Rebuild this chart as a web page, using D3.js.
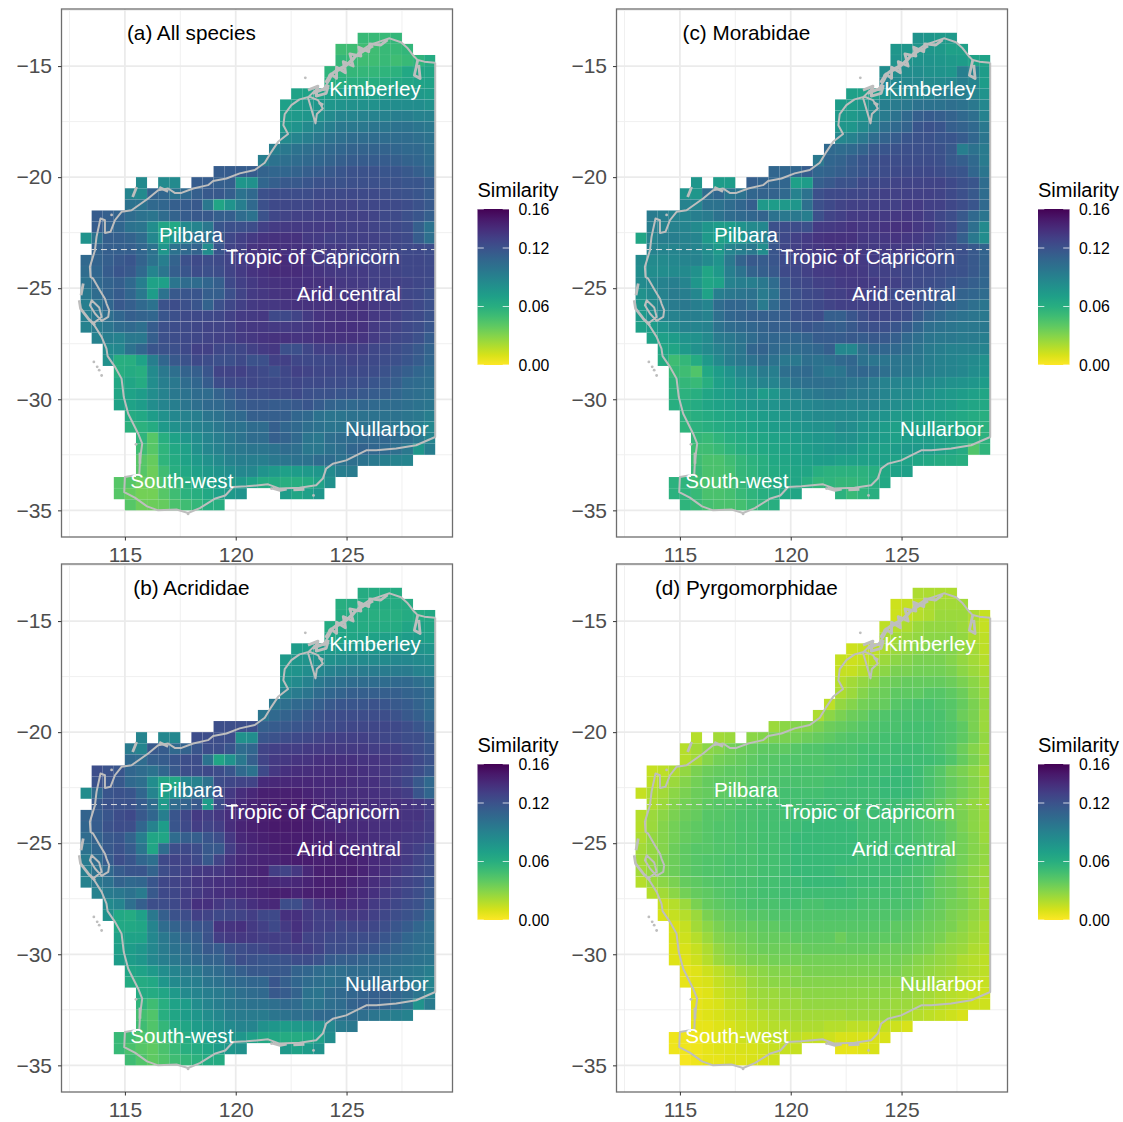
<!DOCTYPE html>
<html>
<head>
<meta charset="utf-8">
<title>Similarity maps</title>
<script src="https://d3js.org/d3.v7.min.js"></script>
<style>
  body { margin: 0; background: #fff; }
  text { font-family: "Liberation Sans", Arial, sans-serif; }
</style>
</head>
<body>
<div id="vis_container"></div>
<script>
// grid: half degree cells, rows go south from -13.5, columns go east from 113
var gridLon = 113, gridLat = -13.5, cellDeg = 0.5;

// first column of each row (row 0 is the northern one)
var firstCol = [25,23,23,22,22,19,18,18,18,18,17,16,12,5,4,4,1,1,0,1,0,0,0,0,0,0,0,1,2,2,3,3,3,3,4,4,5,5,5,5,3,3,4];

// similarity x 1000, read by eye from the maps
var allSpecies = [
[52,52,52,54],
[50,50,50,50,52,52,55],
[54,52,50,50,52,50,52,56,62],
[56,56,54,54,54,56,58,64,66,66],
[60,60,60,60,60,62,64,66,68,68],
[68,68,68,70,70,70,70,70,72,72,74,74,72],
[70,72,74,76,76,78,80,80,80,82,82,82,82,80],
[72,74,76,80,84,88,88,90,90,90,92,92,90,90],
[74,78,84,88,92,96,96,96,98,98,100,100,98,96],
[84,88,92,96,100,102,104,104,104,104,104,104,102,100],
[92,96,100,102,104,106,108,110,110,110,110,108,106,106,102],
[92,100,102,104,106,108,110,112,114,114,114,114,112,110,108,104],
[114,114,114,114,110,108,108,110,112,114,116,118,120,120,120,118,118,116,112,108],
[84,null,84,84,null,114,114,112,112,76,80,108,112,116,116,118,120,120,120,121,121,121,120,120,118,118,114],
[88,84,110,108,100,106,112,116,116,112,100,106,121,123,123,123,123,124,124,124,125,124,124,123,121,120,118,114],
[100,100,106,108,112,114,116,96,66,78,92,106,121,125,126,126,126,128,128,128,128,126,126,125,124,123,120,116],
[114,112,110,104,100,98,104,110,114,116,116,112,112,104,100,120,126,128,129,129,130,129,129,129,129,128,125,124,121,118,112],
[114,110,108,100,98,82,66,64,84,88,96,118,121,121,123,130,132,133,133,132,132,132,130,129,129,128,126,125,123,112,100],
[78,100,112,112,110,104,86,70,76,90,100,100,116,126,130,133,136,137,137,137,133,132,130,130,130,130,129,128,126,124,114,102],
[110,112,112,112,108,100,76,100,106,110,82,118,128,130,136,137,138,138,137,136,133,132,132,130,130,129,128,126,125,125,123],
[106,110,112,116,118,110,100,92,110,121,124,123,124,128,132,136,138,140,140,140,137,134,133,132,130,130,129,128,128,126,126,124],
[104,108,114,118,116,106,88,98,112,118,123,121,123,128,132,136,138,140,140,140,138,136,134,133,132,132,130,129,128,126,126,125],
[100,106,110,112,106,92,68,70,98,104,104,108,112,125,130,133,136,137,138,138,138,137,136,134,133,132,130,130,129,128,126,124],
[96,104,110,114,108,96,72,100,116,118,118,112,112,121,128,132,134,136,137,138,138,138,136,134,134,133,132,130,129,126,125,121],
[92,100,108,116,112,106,100,120,123,121,118,110,121,126,130,133,134,134,136,137,137,137,137,137,138,137,134,133,130,128,125,121],
[92,98,102,108,112,110,108,118,121,124,125,125,126,129,132,133,134,125,125,128,133,136,137,137,137,137,134,132,129,126,124,120],
[90,94,98,104,106,102,114,121,123,124,126,128,128,129,133,134,134,133,132,133,134,136,137,138,138,137,133,130,128,125,123,118],
[90,92,90,96,96,112,121,123,125,126,128,129,130,133,134,136,137,137,136,136,137,137,137,137,136,132,129,126,124,121,114],
[84,86,100,108,118,120,121,125,129,129,126,125,126,129,132,134,121,121,126,130,130,130,130,129,126,125,123,120,116,110],
[80,60,60,68,92,108,116,120,124,123,121,121,124,120,121,129,130,126,125,125,125,126,128,126,125,123,121,118,114,108],
[60,62,60,84,96,102,110,112,118,128,128,129,126,124,121,126,129,128,126,126,125,125,124,123,120,116,112,108,104],
[64,66,62,82,92,96,104,108,114,123,124,125,126,124,124,125,126,124,124,123,123,121,121,118,116,112,106,104,102],
[66,68,72,82,90,96,100,104,104,110,114,118,121,121,123,123,124,121,120,120,118,118,116,114,112,108,104,102,100],
[68,68,72,82,88,92,98,102,106,106,110,114,116,116,114,114,116,118,114,110,108,106,108,106,104,104,102,100,98],
[62,64,72,80,86,90,92,98,100,104,106,112,112,112,112,108,106,100,98,98,100,100,100,100,100,98,96,92],
[58,58,62,74,80,86,90,92,96,100,100,104,104,112,108,106,102,100,98,98,100,100,100,100,98,96,92,86],
[56,42,60,68,76,82,88,92,96,100,104,104,112,110,106,98,96,102,104,104,106,106,108,104,102,96,88],
[50,42,56,64,70,80,86,90,94,96,98,98,100,104,102,96,96,100,102,108,110,108,106,102,96,76,92],
[42,38,56,62,68,74,80,84,90,92,92,92,96,98,100,100,104,104,100,102,100,96,92,90,88],
[42,36,50,60,64,70,74,78,82,86,86,78,74,70,72,74,76,84,92,94],
[42,42,36,36,46,54,60,64,68,72,74,74,68,62,62,60,60,62,68,80],
[42,38,34,34,42,50,58,60,64,70,74,78,null,null,null,72,66,70,76],
[42,36,36,38,46,50,54,60,60]
];

var acrididae = [
[62,62,62,62],
[60,62,62,62,62,62,62],
[62,62,62,60,60,60,62,62,64],
[62,64,64,62,62,62,62,66,68,66],
[66,66,66,68,68,70,70,72,72,70],
[72,72,72,74,74,74,76,76,76,78,78,78,76],
[74,76,78,80,80,82,84,84,84,84,86,86,84,82],
[76,78,82,86,90,92,94,94,94,94,94,94,90,88],
[80,84,90,96,100,102,104,104,104,104,106,106,102,98],
[90,94,98,104,108,110,112,112,112,112,112,110,108,104],
[96,102,106,108,112,116,118,118,118,120,118,116,114,110,104],
[98,106,110,112,116,120,122,123,123,123,123,122,120,116,112,106],
[122,122,122,122,112,114,116,118,120,122,123,125,126,126,126,126,125,122,118,112],
[88,null,86,86,null,123,123,122,122,80,82,118,120,123,125,126,128,130,130,130,130,128,126,125,123,122,116],
[94,88,116,114,106,110,118,122,122,118,104,108,128,130,131,131,133,133,133,133,133,133,131,131,130,126,123,118],
[106,104,112,114,118,122,123,100,66,78,96,112,128,133,134,136,136,138,138,138,138,136,136,134,133,130,125,120],
[122,120,118,108,104,100,108,116,122,123,125,123,118,106,100,125,134,138,139,139,139,139,139,139,138,136,134,131,128,123,116],
[120,118,116,106,102,82,66,64,86,90,100,123,126,128,128,141,142,142,142,142,141,141,141,139,138,138,134,131,126,116,106],
[82,106,118,120,118,108,88,70,78,92,104,104,123,133,139,142,146,146,146,146,144,142,141,139,139,139,138,136,134,131,118,108],
[116,120,120,120,114,104,74,104,110,116,72,123,136,141,144,146,147,147,147,147,144,142,141,141,139,139,138,138,136,134,130],
[110,114,118,123,125,116,108,92,118,126,133,131,134,139,142,146,147,149,149,149,147,144,142,141,141,139,139,138,138,136,136,131],
[108,114,120,123,122,108,90,72,118,125,131,128,131,139,144,146,147,149,149,149,147,146,144,142,141,141,139,138,138,136,134,131],
[104,110,116,118,110,92,66,66,104,112,112,118,122,134,142,144,146,147,147,147,147,146,146,144,142,141,139,138,136,134,133,130],
[100,108,116,120,114,98,66,104,122,125,123,116,116,131,139,142,144,146,147,147,147,147,146,144,142,141,139,138,136,133,130,125],
[94,104,114,122,118,108,102,125,128,128,125,116,128,136,141,142,144,144,146,147,147,146,146,146,146,144,141,139,136,133,128,123],
[92,100,106,114,118,118,110,123,126,130,133,134,134,138,141,142,144,131,128,134,142,146,146,146,146,144,141,138,134,130,126,122],
[90,96,100,110,106,108,118,126,128,131,134,136,138,138,141,142,144,142,141,142,144,146,146,146,144,142,139,136,131,128,125,118],
[90,94,96,100,94,116,125,126,131,133,136,138,139,141,142,144,146,146,144,146,146,146,146,142,141,138,133,130,126,122,116],
[84,88,102,112,122,123,125,131,138,138,134,131,134,138,141,142,123,122,131,136,138,141,139,138,133,130,126,123,120,112],
[80,64,62,70,96,112,120,123,130,128,125,126,128,131,126,125,138,138,133,130,130,133,134,133,130,126,123,120,116,108],
[64,64,66,88,104,110,116,118,120,136,136,138,133,130,125,133,138,133,130,130,126,128,128,126,122,118,114,108,102],
[68,68,68,86,96,102,110,112,120,131,133,134,133,131,131,130,136,128,128,125,125,123,123,122,118,114,108,104,102],
[70,72,76,86,94,100,104,110,116,114,120,122,125,126,130,130,131,131,128,123,123,122,120,118,114,110,106,102,100],
[72,72,76,86,92,96,102,106,110,110,116,122,120,118,118,120,123,123,120,114,112,112,110,108,106,104,102,100,98],
[66,68,74,82,88,94,96,102,104,108,112,116,116,116,116,110,108,104,102,102,104,104,104,102,100,98,96,92],
[62,62,64,76,84,90,92,98,100,104,106,108,108,118,112,108,104,102,100,102,104,104,106,104,100,98,94,88],
[62,62,66,74,84,88,92,94,98,102,104,106,116,114,110,100,98,104,106,108,110,112,112,108,104,98,90],
[56,50,60,68,72,82,88,92,96,98,100,100,102,106,104,98,98,102,104,110,112,112,110,106,100,78,94],
[48,44,60,66,72,76,82,86,92,94,94,94,98,100,102,102,106,106,102,104,102,98,94,92,90],
[50,44,54,62,66,72,76,80,84,88,88,80,76,72,74,76,78,86,94,96],
[52,50,44,42,50,56,62,66,70,74,76,76,70,64,64,62,62,64,70,82],
[52,46,42,40,46,52,60,62,66,72,76,80,null,null,null,74,68,72,78],
[50,44,40,44,50,54,58,62,62]
];

var morabidae = [
[78,76,74,74],
[76,76,76,76,74,70,70],
[78,78,78,78,76,74,72,68,68],
[82,82,82,82,80,78,76,92,90,72],
[88,86,86,86,84,84,86,92,88,72],
[70,70,72,80,84,84,86,88,92,92,92,88,78],
[72,72,76,84,92,94,96,100,100,100,102,100,96,86],
[74,74,78,86,94,100,106,112,114,112,110,106,102,90],
[76,76,84,92,102,106,110,118,120,118,112,110,106,96],
[86,90,96,104,110,114,118,120,120,118,118,114,108,98],
[106,104,106,110,116,118,120,121,121,121,120,116,92,100,94],
[96,108,110,114,118,120,123,123,123,123,123,121,116,112,106,94],
[108,108,108,114,108,110,112,116,118,121,123,124,124,125,125,123,120,118,108,98],
[76,null,72,72,null,112,110,108,108,70,72,112,116,120,120,124,125,126,128,128,128,128,128,125,121,118,104],
[78,76,104,108,98,100,108,110,110,106,90,100,121,124,125,126,126,128,129,129,129,129,129,128,125,121,116,104],
[90,88,100,100,104,108,112,74,72,74,76,102,121,125,128,129,129,130,130,130,132,132,130,129,126,123,118,106],
[94,92,90,88,92,94,100,104,106,108,110,100,96,96,92,121,128,130,132,132,133,133,134,134,133,130,126,123,116,106,98],
[92,90,90,88,84,76,72,72,78,84,86,121,123,123,121,132,133,134,136,134,134,136,137,137,134,132,128,124,116,102,84],
[66,88,92,92,90,88,74,70,72,76,84,90,116,125,129,132,136,137,137,137,134,133,134,136,134,133,130,126,123,112,96,82],
[90,88,88,90,88,82,74,88,92,96,82,118,126,129,132,134,136,136,134,133,132,132,132,132,130,129,125,123,121,116,110],
[84,84,84,86,88,90,84,78,96,110,116,114,118,124,128,130,133,134,134,134,133,132,130,128,128,126,125,123,121,120,116,110],
[82,82,82,84,84,80,66,74,92,100,110,112,116,124,126,129,132,133,134,134,133,130,129,128,126,125,124,123,121,120,116,110],
[84,86,90,92,88,76,66,68,90,92,92,96,104,118,124,126,129,130,132,133,133,132,130,129,126,124,123,121,118,116,112,108],
[80,84,90,94,92,86,68,92,96,98,100,94,100,116,121,124,126,129,130,132,130,129,126,125,124,121,120,118,114,110,108,104],
[76,84,90,94,96,92,88,104,108,108,104,94,106,114,121,123,125,128,130,130,129,129,128,126,125,121,118,114,110,106,102,98],
[74,82,88,90,92,92,90,102,108,110,112,112,112,114,120,121,123,112,112,118,123,126,126,125,123,116,110,106,102,100,98,96],
[70,72,78,84,90,88,90,100,104,106,108,110,112,112,116,118,116,114,112,116,120,121,121,118,114,108,102,100,98,96,96,96],
[68,70,72,78,80,84,94,96,100,104,108,108,108,108,110,114,114,114,116,114,116,116,112,106,102,98,96,96,94,94,92],
[66,66,74,80,84,90,94,98,108,110,106,104,104,106,108,112,86,86,102,108,108,106,102,98,94,92,90,90,90,88],
[62,50,54,62,74,84,92,96,100,104,100,96,96,102,100,102,106,108,100,98,98,98,96,96,92,90,88,86,84,80],
[52,50,44,64,72,78,86,88,94,92,102,104,106,100,96,98,106,108,106,102,98,96,94,92,90,88,86,82,78],
[56,54,52,60,70,74,80,84,88,88,94,100,102,102,102,100,98,98,94,90,88,86,86,84,82,80,78,76,72],
[58,58,60,66,70,72,76,78,72,76,84,90,94,96,98,98,94,94,92,88,84,84,82,80,76,74,72,70,66],
[60,60,62,66,68,70,74,76,78,78,82,84,86,88,90,88,88,90,90,84,82,80,76,76,74,72,68,66,64],
[58,60,62,64,66,68,70,72,74,76,80,82,84,84,84,84,82,80,78,74,72,72,70,68,66,64,62,60],
[56,58,60,62,64,66,68,70,72,74,76,78,80,80,84,82,78,76,72,70,70,70,68,66,64,62,60,58],
[54,52,56,60,62,64,66,68,70,72,74,76,76,80,80,76,74,72,70,72,72,72,70,68,64,60,58],
[50,50,52,56,60,62,64,66,68,70,72,74,76,76,76,72,70,70,72,74,74,72,70,66,62,44,56],
[50,46,46,50,54,58,60,64,66,68,70,72,72,70,70,70,70,70,68,68,66,64,62,62,60],
[52,46,46,48,54,56,60,62,64,66,66,60,58,58,58,58,60,64,68,70],
[58,56,50,46,46,50,54,58,60,62,64,66,60,54,56,54,54,56,60,64],
[58,56,52,46,46,48,52,56,60,62,64,66,null,null,null,58,52,56,60],
[56,52,48,46,46,48,52,56,60]
];

var pyrgomorphidae = [
[20,20,20,20],
[12,14,16,20,22,22,22],
[12,14,18,20,24,24,24,20,14],
[16,18,20,24,26,26,26,24,18,14],
[20,22,24,26,28,28,28,26,20,16],
[12,14,16,20,24,26,28,30,30,30,26,22,16],
[14,12,14,18,24,28,30,32,32,32,30,26,22,18],
[14,14,18,24,28,32,32,34,34,34,32,28,24,20],
[18,22,26,30,34,36,38,38,38,38,36,32,28,22],
[20,24,30,34,36,40,40,40,42,42,40,36,30,24],
[16,26,30,34,36,38,42,44,46,46,44,42,38,32,26],
[20,28,32,36,38,42,44,46,46,46,46,46,42,36,32,24],
[24,28,30,30,32,36,38,40,42,44,46,46,48,48,48,46,44,40,32,24],
[18,null,22,24,null,28,30,32,32,34,36,38,40,42,44,44,46,48,48,48,48,48,46,44,40,34,26],
[18,22,28,30,34,36,38,40,40,40,42,44,44,46,46,46,48,48,48,50,50,50,48,46,42,36,30,24],
[18,22,30,34,36,38,40,42,42,44,44,44,44,46,46,46,48,50,50,50,50,50,50,48,44,38,32,26],
[14,16,20,26,32,36,38,40,40,42,42,44,44,46,46,46,46,48,48,50,50,50,52,52,50,46,42,36,32,28,22],
[16,20,24,30,34,38,40,40,40,42,44,44,46,46,46,46,48,48,50,50,50,52,52,52,50,46,42,38,34,30,24],
[14,20,22,28,32,36,38,40,40,40,44,46,46,48,48,48,48,50,50,50,50,50,52,52,52,50,46,42,38,34,30,24],
[20,24,30,34,36,40,42,42,44,46,46,48,48,48,50,50,50,50,50,50,50,50,50,48,46,42,38,34,30,26,22],
[18,24,28,32,36,38,42,42,44,46,46,48,48,48,50,50,52,52,52,50,50,50,50,48,48,46,42,38,36,32,28,24],
[18,24,30,34,38,40,42,44,44,46,46,48,48,50,50,52,52,52,52,52,50,50,50,48,48,46,44,42,38,32,28,24],
[20,26,30,34,38,40,42,44,44,46,46,48,48,50,52,52,52,52,52,52,50,50,50,48,48,46,44,42,38,34,30,24],
[22,26,30,36,40,42,42,44,44,46,46,48,48,50,52,52,52,52,52,52,50,50,50,50,50,48,44,42,38,34,30,26],
[22,26,32,36,40,42,44,44,46,46,46,48,48,50,52,52,52,52,52,52,50,50,50,50,50,48,46,42,38,34,30,26],
[22,26,32,36,40,42,44,44,46,46,46,48,48,50,52,52,52,52,50,50,50,50,50,50,48,46,44,40,36,32,28,24],
[18,24,28,32,38,40,42,44,44,46,46,48,48,50,50,52,52,52,52,50,50,50,48,48,46,46,42,38,36,32,28,24],
[18,22,28,34,38,40,42,44,46,46,48,48,50,50,50,50,50,50,50,48,48,48,48,46,46,42,38,36,32,28,22],
[14,18,24,32,38,40,42,44,46,46,46,48,48,46,46,48,48,48,46,46,46,46,46,44,40,38,34,32,28,22],
[10,14,18,24,32,36,38,40,42,42,44,44,44,44,44,44,44,44,44,44,44,44,42,40,38,36,32,30,26,22],
[10,14,22,28,32,36,38,38,40,40,42,42,42,42,42,42,42,42,42,42,40,40,38,36,34,32,28,24,20],
[10,12,18,24,30,32,34,36,38,38,38,40,40,40,40,36,40,40,40,40,40,38,36,34,32,28,26,22,20],
[8,10,14,20,26,30,32,34,36,36,36,36,38,38,38,38,38,38,38,36,36,36,34,32,28,26,24,20,18],
[8,8,12,18,24,28,30,32,32,34,34,34,34,34,34,34,34,34,34,34,34,32,30,28,26,24,20,18,16],
[6,8,12,16,20,24,26,28,30,30,30,32,32,32,32,32,32,32,32,32,30,28,26,24,22,20,18,16],
[6,8,10,14,18,20,24,26,28,28,30,30,30,30,30,30,30,30,30,28,28,26,24,22,20,18,16,14],
[6,8,12,16,18,22,24,24,26,26,28,28,28,28,28,28,28,28,26,26,24,22,20,18,16,14,12],
[6,8,10,14,16,20,22,22,24,24,26,26,26,26,26,26,26,26,24,24,22,20,18,16,14,12,12],
[6,8,10,12,14,16,18,20,22,22,22,22,22,22,24,24,24,24,22,20,18,16,14,12,10],
[6,6,8,10,12,14,16,18,18,20,20,20,18,18,16,16,16,14,12,10],
[4,4,4,6,8,10,12,14,14,16,16,16,14,14,12,10,10,10,10,10],
[4,4,4,6,8,8,10,10,12,14,14,14,null,null,null,6,6,8,10],
[2,4,6,6,8,8,10,10,12]
];

// coast of Western Australia, closed down the 129E border
var coast = [
[129,-14.85],[128.51,-14.8],[128.21,-14.73],[128.06,-14.58],[127.76,-14.2],[127.46,-13.93],[126.94,-13.75],
[126.49,-13.9],[126.04,-14.05],[125.59,-14.35],[125.29,-14.73],[124.83,-15.11],[124.38,-15.33],[124.23,-15.63],
[123.93,-16.08],[123.63,-16.05],[123.26,-16.41],[123.6,-17.58],[123.66,-17.16],[123.93,-16.91],[123.71,-16.53],
[123.33,-16.38],[122.88,-16.5],[122.51,-16.76],[122.21,-17.16],[122.15,-17.66],[122.36,-18.06],[121.91,-18.41],
[121.61,-18.86],[121.31,-19.35],[120.86,-19.68],[120.18,-19.83],[119.58,-20.06],[118.98,-20.17],[118.75,-20.36],
[118.08,-20.51],[117.55,-20.71],[117.25,-20.71],[116.95,-20.51],[116.5,-20.59],[116.05,-20.96],[115.3,-21.49],
[114.85,-21.56],[114.55,-21.94],[114.35,-22.46],[114.1,-22.51],[114.1,-21.94],[113.9,-21.86],[113.72,-22.69],
[113.65,-23.29],[113.42,-24.04],[113.45,-24.49],[113.57,-24.57],[113.87,-25.09],[114.1,-25.47],[114.17,-25.69],
[114.29,-25.99],[114.25,-26.29],[113.95,-26.47],[113.65,-26.14],[113.42,-25.77],[113.5,-25.54],[113.84,-25.87],
[113.95,-26.29],[113.57,-26.59],[113.95,-27.19],[114.17,-27.72],[114.22,-28.06],[114.55,-28.54],[114.85,-29.07],
[114.95,-29.9],[115.15,-30.65],[115.6,-31.55],[115.78,-32],[115.68,-32.75],[115.65,-33.38],[115,-33.5],
[114.97,-34.18],[115.45,-34.43],[116,-34.82],[116.5,-35],[117.33,-34.96],[117.85,-35.12],[118.38,-34.9],
[119.05,-34.48],[119.53,-34.33],[119.88,-33.95],[120.48,-33.92],[121.46,-33.83],[121.98,-34.02],[122.88,-33.98],
[123.63,-33.87],[123.93,-33.57],[124.08,-33.12],[124.38,-32.9],[124.98,-32.75],[125.89,-32.3],[126.34,-32.3],
[127.24,-32.22],[128.14,-32.07],[129,-31.7],[129,-14.85]
];

// rugged bits and islands, heavier than the coast line
var islands = [
[[124.05,-15.75],[124.3,-15.35],[124.55,-15.55],[124.55,-15.05],[124.95,-15.3],[124.85,-14.8],[125.3,-15],[125.15,-14.45],[125.65,-14.55],[125.55,-14.15],[126,-14.35],[126.05,-14],[126.55,-14.05],[126.85,-13.82]],
[[124.2,-15.45],[124.6,-15.15],[125,-14.95],[125.35,-14.6],[125.8,-14.3],[126.2,-14.1]],
[[123.26,-16.08],[123.71,-15.9],[123.63,-16.35],[124.08,-16.23],[124.16,-15.96],[123.48,-16.23]],
[[123.85,-16.05],[124.05,-16.05],[124.2,-15.85]],
[[123.75,-16.65],[123.95,-16.75]],
[[128.21,-14.73],[128.06,-15.41],[128.32,-15.56],[128.26,-14.95]],
[[113.12,-24.79],[113.02,-25.32]],
[[112.94,-25.54],[113,-25.92],[113.35,-26.37],[113.65,-26.67]],
[[115.53,-20.44],[115.35,-20.89]],
[[116.55,-20.45],[116.95,-20.65]],
[[115.68,-32.4],[115.68,-32.9]],
[[121.65,-34],[122,-34.1],[122.3,-34.05]],
[[122.6,-34.08],[123.1,-34.05]]
];

var islets = [[113.6,-28.32],[113.75,-28.54],[113.84,-28.69],[113.95,-28.93],[123.14,-15.53],[115.5,-32.03],[123.51,-34.33],[121.61,-34.02],[117.85,-35.16],[114.4,-21.7]];

var tropicLat = -23.26, tropicLon = [113.47, 129];

var placeNames = ["Kimberley","Pilbara","Tropic of Capricorn","Arid central","Nullarbor","South-west"];
var placeLon = [126.28,117.98,123.48,125.1,126.82,117.57];
var placeLat = [-16.03,-22.6,-23.6,-25.27,-31.31,-33.65];

var xTicks = [115,120,125];
var yTicks = [-15,-20,-25,-30,-35];
var xMajor = [115,120,125], xMinor = [112.5,117.5,122.5,127.5];
var yMajor = [-15,-20,-25,-30,-35], yMinor = [-12.5,-17.5,-22.5,-27.5,-32.5];
var seamLat = -26.5;
var legendTicks = [0,0.06,0.12,0.16];

var panelWidth = 391, panelHeight = 528;

var color = d3.scaleSequential(d3.interpolateViridis).domain([0.16,0]);

var svg = d3.select("#vis_container").append("svg")
    .attr("width", 1123)
    .attr("height", 1122);

var defs = svg.append("defs");
var grad = defs.append("linearGradient")
    .attr("id", "simgrad")
    .attr("x1", 0).attr("x2", 0).attr("y1", 1).attr("y2", 0);
d3.range(0, 17).forEach(function(i) {
  grad.append("stop")
      .attr("offset", (i / 16))
      .attr("stop-color", color(i / 100));
});

function drawPanel(title, rows, left, top, legendLeft) {
  var g = svg.append("g").attr("transform", "translate(" + left + "," + top + ")");
  var x = d3.scaleLinear().domain([112.14,129.78]).range([0,panelWidth]);
  var y = d3.scaleLinear().domain([-12.43,-36.2]).range([0,panelHeight]);

  // grid
  g.selectAll("line.vminor").data(xMinor).enter().append("line")
      .attr("x1", x).attr("x2", x).attr("y1", 0).attr("y2", panelHeight)
      .style("stroke", "#f0f0f0").style("stroke-width", 1);
  g.selectAll("line.hminor").data(yMinor).enter().append("line")
      .attr("y1", y).attr("y2", y).attr("x1", 0).attr("x2", panelWidth)
      .style("stroke", "#f0f0f0").style("stroke-width", 1);
  g.selectAll("line.vmajor").data(xMajor).enter().append("line")
      .attr("x1", x).attr("x2", x).attr("y1", 0).attr("y2", panelHeight)
      .style("stroke", "#ebebeb").style("stroke-width", 1.8);
  g.selectAll("line.hmajor").data(yMajor).enter().append("line")
      .attr("y1", y).attr("y2", y).attr("x1", 0).attr("x2", panelWidth)
      .style("stroke", "#ebebeb").style("stroke-width", 1.8);

  // cells
  var cells = [];
  rows.forEach(function(row, r) {
    row.forEach(function(v, i) {
      if (v !== null) cells.push({ c: firstCol[r] + i, r: r, v: v / 1000 });
    });
  });
  g.append("g").selectAll("rect").data(cells).enter().append("rect")
      .attr("x", function(d) { return x(gridLon + d.c * cellDeg); })
      .attr("y", function(d) { return y(gridLat - d.r * cellDeg); })
      .attr("width", x(gridLon + cellDeg) - x(gridLon))
      .attr("height", y(gridLat - cellDeg) - y(gridLat))
      .style("fill", function(d) { return color(d.v); })
      .style("stroke", "rgba(255,255,255,0.05)")
      .style("stroke-width", 0.6);

  g.append("line")
      .attr("x1", x(gridLon)).attr("x2", x(tropicLon[1]))
      .attr("y1", y(seamLat)).attr("y2", y(seamLat))
      .style("stroke", "rgba(255,255,255,0.22)").style("stroke-width", 0.8);

  // tropic
  g.append("line")
      .attr("x1", x(tropicLon[0])).attr("x2", x(tropicLon[1]))
      .attr("y1", y(tropicLat)).attr("y2", y(tropicLat))
      .style("stroke", "#e0e0e0").style("stroke-width", 1)
      .style("stroke-dasharray", "6,4");

  // coast
  var line = d3.line().x(function(d) { return x(d[0]); }).y(function(d) { return y(d[1]); });
  g.append("path").attr("d", line(coast))
      .style("fill", "none").style("stroke", "#bebebe").style("stroke-width", 2)
      .style("stroke-linejoin", "round");
  g.selectAll("path.isl").data(islands).enter().append("path")
      .attr("d", line)
      .style("fill", "none").style("stroke", "#bebebe").style("stroke-width", 2.8)
      .style("stroke-linejoin", "round");
  g.selectAll("circle").data(islets).enter().append("circle")
      .attr("cx", function(d) { return x(d[0]); })
      .attr("cy", function(d) { return y(d[1]); })
      .attr("r", 1.4)
      .style("fill", "#bebebe");

  // place labels
  g.selectAll("text.place").data(placeNames).enter().append("text")
      .attr("class", "place")
      .attr("x", function(d, i) { return x(placeLon[i]); })
      .attr("y", function(d, i) { return y(placeLat[i]); })
      .attr("dy", "0.35em")
      .attr("text-anchor", "middle")
      .style("font-size", "20.6px")
      .style("fill", "#fff")
      .text(function(d) { return d; });

  g.append("text")
      .attr("x", x(118)).attr("y", y(-13.5)).attr("dy", "0.35em")
      .attr("text-anchor", "middle")
      .style("font-size", "20.7px")
      .style("fill", "#000")
      .text(title);

  // border and axes
  g.append("rect")
      .attr("width", panelWidth).attr("height", panelHeight)
      .style("fill", "none").style("stroke", "#6e6e6e").style("stroke-width", 1.3);

  var xAxis = d3.axisBottom(x).tickValues(xTicks).tickSize(3.5).tickPadding(7);
  var yAxis = d3.axisLeft(y).tickValues(yTicks).tickSize(3.5).tickPadding(6)
      .tickFormat(function(d) { return "\u2212" + Math.abs(d); });
  var ax = g.append("g").attr("transform", "translate(0," + panelHeight + ")").call(xAxis);
  var ay = g.append("g").call(yAxis);
  [ax, ay].forEach(function(a) {
    a.select(".domain").remove();
    a.selectAll("line").style("stroke", "#333");
    a.selectAll("text").style("font-size", "21px").style("fill", "#4d4d4d")
        .style("font-family", "\"Liberation Sans\", Arial, sans-serif");
  });

  // legend
  var legendY = d3.scaleLinear().domain([0,0.16]).range([365 - 9, 209 - 9]);
  var lg = g.append("g").attr("transform", "translate(" + (legendLeft - left) + ",0)");
  lg.append("text").attr("x", 0).attr("y", 188)
      .style("font-size", "20px").style("fill", "#000")
      .text("Similarity");
  lg.append("rect")
      .attr("x", 0).attr("y", legendY(0.16))
      .attr("width", 31.5).attr("height", legendY(0) - legendY(0.16))
      .style("fill", "url(#simgrad)");
  legendTicks.forEach(function(t) {
    lg.append("line").attr("x1", 0).attr("x2", 6.3).attr("y1", legendY(t)).attr("y2", legendY(t))
        .style("stroke", "#fff").style("stroke-opacity", 0.75).style("stroke-width", 1);
    lg.append("line").attr("x1", 25.2).attr("x2", 31.5).attr("y1", legendY(t)).attr("y2", legendY(t))
        .style("stroke", "#fff").style("stroke-opacity", 0.75).style("stroke-width", 1);
  });
  var lAxis = d3.axisRight(legendY).tickValues(legendTicks).tickSize(0).tickPadding(0)
      .tickFormat(d3.format(".2f"));
  var la = lg.append("g").attr("transform", "translate(41,0)").call(lAxis);
  la.select(".domain").remove();
  la.selectAll("text").style("font-size", "15.8px").style("fill", "#000")
      .style("font-family", "\"Liberation Sans\", Arial, sans-serif");
}

drawPanel("(a) All species", allSpecies, 61.5, 9, 477.5);
drawPanel("(c) Morabidae", morabidae, 616.5, 9, 1038);
drawPanel("(b) Acrididae", acrididae, 61.5, 564, 477.5);
drawPanel("(d) Pyrgomorphidae", pyrgomorphidae, 616.5, 564, 1038);
</script>
</body>
</html>
